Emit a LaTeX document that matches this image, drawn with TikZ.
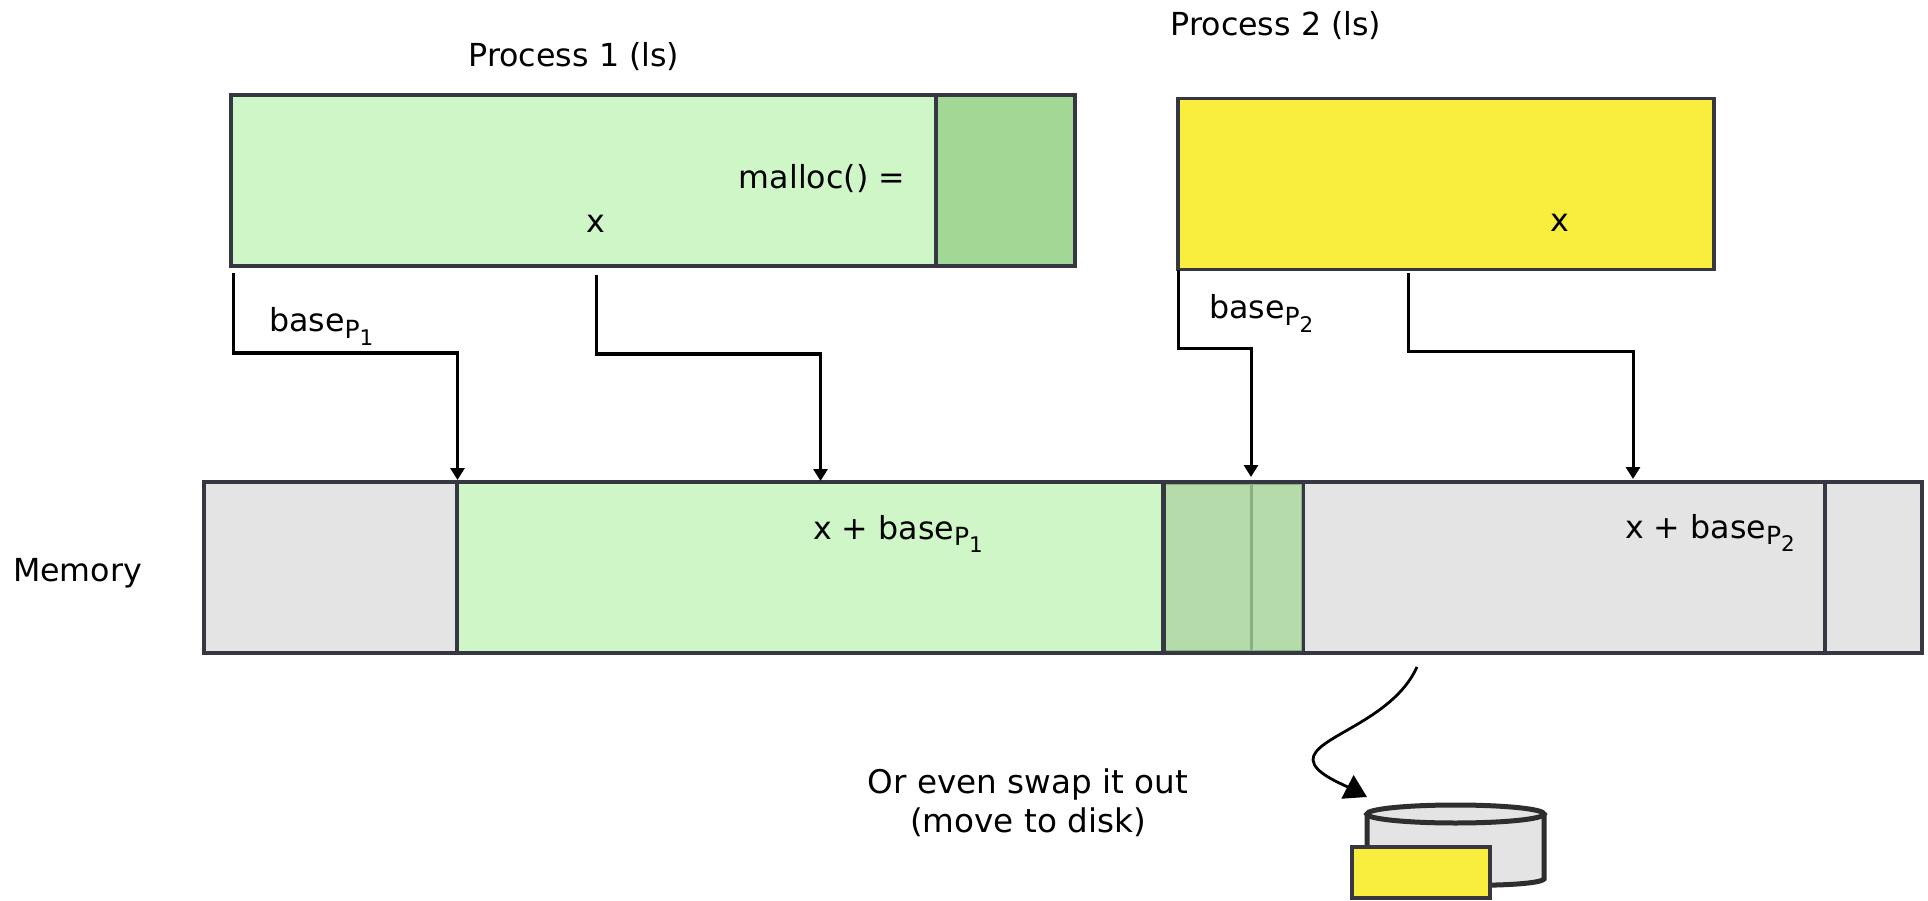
\documentclass[tikz,border=0pt]{standalone}
\usepackage{fontspec}
\setmainfont{DejaVu Sans}
\usetikzlibrary{arrows.meta}
\definecolor{lgreen}{HTML}{CFF6C6}
\definecolor{dgreen}{HTML}{A3D795}
\definecolor{ovgreen}{HTML}{B5DBAB}
\definecolor{ovline}{HTML}{8BAF83}
\definecolor{ygold}{HTML}{F9EE3D}
\definecolor{lgray}{HTML}{E4E4E4}
\definecolor{edge}{HTML}{353842}
\definecolor{cyledge}{HTML}{2E2E2E}
\newcommand{\basesub}[1]{base\raisebox{-0.2em}{\fontsize{25}{25}\selectfont P\raisebox{-0.3em}{\fontsize{21.5}{21.5}\selectfont #1}}}
\tikzset{
  box/.style={draw=edge,line width=3.4pt,inner sep=0pt,outer sep=0pt},
  lbl/.style={font=\fontsize{31.7}{39}\selectfont,text=black,inner sep=0pt,outer sep=0pt,align=center},
  conn/.style={draw=black,line width=3pt,-{Triangle[length=12pt,width=14pt]}},
}
\begin{document}
\begin{tikzpicture}[x=1pt,y=-1pt]
\useasboundingbox (0,0) rectangle (1928,901);
% process 1
\node[box,fill=lgreen,minimum width=705pt,minimum height=171pt,anchor=north west] (p1) at (231,95) {};
\node[box,fill=dgreen,minimum width=139pt,minimum height=171pt,anchor=north west] (p1b) at (936,95) {};
% process 2
\node[box,fill=ygold,minimum width=536pt,minimum height=171pt,anchor=north west] (p2) at (1178,98.5) {};
% memory
\node[box,fill=lgray,minimum width=1718pt,minimum height=171pt,anchor=north west] (mem) at (204,482) {};
\node[box,fill=lgreen,minimum width=706pt,minimum height=171pt,anchor=north west] (m1) at (457,482) {};
\node[box,fill=lgray,minimum width=522pt,minimum height=171pt,anchor=north west] (m2) at (1303,482) {};
\node[draw=ovline,line width=1.5pt,fill=ovgreen,outer sep=0pt,minimum width=138pt,minimum height=167pt,inner sep=0pt,anchor=north west] (ov) at (1164,484) {};
\draw[edge,line width=4pt] (1163.5,482) -- (1163.5,653);
\draw[edge,line width=3.4pt] (1163,482) -- (1303,482);
\draw[edge,line width=3.4pt] (1163,652.5) -- (1303,652.5);
\draw[edge,line width=2.5pt] (1303,482) -- (1303,653);
\draw[ovline,line width=3pt] (1251,484) -- (1251,651);
% labels
\node[lbl,anchor=base] (t1) at (574,67) {Process 1 (ls)};
\node[lbl,anchor=base] (t2) at (1276,36) {Process 2 (ls)};
\node[lbl,anchor=base east] (tm) at (905,189) {malloc() =};
\node[lbl,anchor=base] (tx1) at (596,233) {x};
\node[lbl,anchor=base] (tx2) at (1560,232) {x};
\node[lbl,anchor=base west] (tb1) at (269,332) {\basesub{1}};
\node[lbl,anchor=base west] (tb2) at (1209,319) {\basesub{2}};
\node[lbl,anchor=base west] (tx3) at (813,539) {x + \basesub{1}};
\node[lbl,anchor=base west] (tx4) at (1625,538) {x + \basesub{2}};
\node[lbl,anchor=base west] (tmem) at (13,581) {Memory};
\node[lbl,font=\fontsize{32.6}{39}\selectfont] (tswap) at (1028,803) {Or even swap it out\\(move to disk)};
% connectors
\coordinate (a1) at (233,273);
\coordinate (a2) at (457.5,480);
\coordinate (b1) at (596,275);
\coordinate (b2) at (820.5,481);
\coordinate (c1) at (1178,270);
\coordinate (c2) at (1251,477);
\coordinate (d1) at (1408,273);
\coordinate (d2) at (1633,479);
\draw[conn] (a1) -- (233,353) -- (457.5,353) -- (a2);
\draw[conn] (b1) -- (596,354) -- (820.5,354) -- (b2);
\draw[conn] (c1) -- (1178,349) -- (1251,349) -- (c2);
\draw[conn] (d1) -- (1408,352) -- (1633,352) -- (d2);
% disk
\coordinate (s1) at (1417,667);
\path[fill=lgray,draw=cyledge,line width=5pt] (1367,814) -- (1367,879) .. controls (1375,886) and (1536,889) .. (1544,879) -- (1544,814);
\draw[cyledge,fill=lgray,line width=5pt] (1455.5,814) ellipse [x radius=88.5pt,y radius=9pt];
\node[box,fill=ygold,minimum width=138pt,minimum height=51pt,anchor=north west] (disk) at (1352,847) {};
\draw[line width=2.8pt,-{Triangle[length=22pt,width=26pt]}] (s1) .. controls (1392,722) and (1312,737) .. (1313,760) .. controls (1314,773) and (1340,783) .. (1367,797);
\end{tikzpicture}
\end{document}
